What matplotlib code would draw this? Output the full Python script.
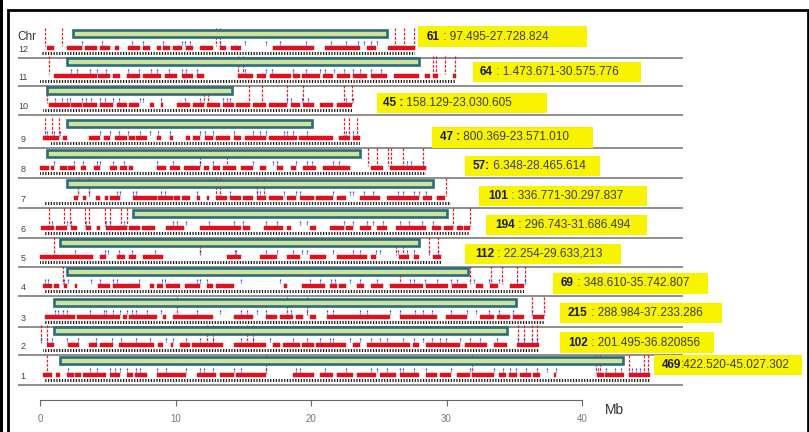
import matplotlib
matplotlib.use("Agg")
import matplotlib.pyplot as plt
from matplotlib.patches import Rectangle

plt.rcParams['font.family'] = ['Liberation Sans', 'DejaVu Sans']
plt.rcParams['hatch.linewidth'] = 0.9

# ---- data (Mb), index 0 = chromosome 1 ... index 11 = chromosome 12 ----
chroms = ['1', '2', '3', '4', '5', '6', '7', '8', '9', '10', '11', '12']
chrom_start = [0.4, 0.2, 0.3, 0.3, 0.0, 0.3, 0.3, 0.0, 0.8, 0.2, 0.0, 0.1]
chrom_end = [45.0, 36.8, 37.2, 35.7, 29.6, 31.7, 30.3, 28.5, 23.6, 23.0, 30.6, 27.7]
box_start = [1.5, 1.0, 1.0, 2.0, 1.5, 6.9, 2.0, 0.5, 2.0, 0.5, 2.0, 2.4]
box_end = [43.0, 34.5, 35.1, 31.6, 28.0, 30.0, 29.0, 23.6, 20.1, 14.2, 28.0, 25.6]

marker_counts = ['469', '102', '215', '69', '112', '194', '101', '57:', '47 :', '45 :', '64', '61']
marker_ranges = [':422.520-45.027.302', ' : 201.495-36.820856', ' : 288.984-37.233.286',
                 ' : 348.610-35.742.807', ' : 22.254-29.633,213', ' : 296.743-31.686.494',
                 ' : 336.771-30.297.837', ' 6.348-28.465.614', ' 800.369-23.571.010',
                 ' 158.129-23.030.605', ' : 1.473.671-30.575.776', ' : 97.495-27.728.824']

red_runs = [
    [(0.2, 0.9), (1.2, 1.5), (2.0, 2.5), (2.6, 3.0), (3.2, 4.9), (5.2, 5.9), (6.4, 6.9), (7.0, 7.9),
     (8.6, 10.8), (11.6, 13.0), (13.3, 14.3), (14.5, 16.7), (18.7, 20.2), (20.7, 21.6), (21.9, 23.1),
     (23.4, 24.8), (25.1, 26.3), (26.6, 28.0), (28.5, 29.3), (29.5, 30.3), (30.8, 31.7), (31.9, 33.5),
     (33.9, 34.4), (34.6, 35.2), (35.4, 36.2), (36.4, 36.9), (37.9, 38.1), (41.1, 41.6), (41.7, 43.1),
     (43.5, 45.0)],
    [(0.5, 1.0), (2.1, 2.9), (3.6, 4.2), (4.4, 5.4), (5.8, 8.4), (8.7, 9.1), (9.7, 9.8), (10.3, 11.1),
     (11.2, 13.5), (14.3, 16.7), (17.2, 17.7), (17.9, 19.2), (19.3, 20.2), (20.4, 22.6), (23.1, 23.6),
     (24.1, 27.3), (27.5, 28.0), (28.5, 31.0), (31.4, 33.0), (33.5, 34.5), (35.2, 36.8)],
    [(0.4, 2.6), (2.7, 5.9), (6.1, 6.4), (6.6, 8.6), (9.1, 9.3), (9.8, 12.8), (14.3, 15.7), (16.7, 17.5),
     (17.7, 18.7), (18.9, 19.4), (19.9, 20.4), (21.2, 25.8), (26.6, 29.3), (30.0, 31.5), (32.5, 33.5),
     (33.7, 34.7), (34.9, 35.7), (36.4, 37.2)],
    [(0.2, 0.9), (1.0, 1.4), (1.8, 2.0), (2.6, 2.7), (4.3, 5.2), (5.4, 7.4), (8.1, 8.4), (8.6, 9.1),
     (9.3, 10.3), (10.7, 11.8), (12.3, 12.8), (13.0, 14.3), (18.0, 18.2), (19.3, 21.0), (21.4, 21.9),
     (22.1, 22.6), (23.4, 23.9), (24.4, 25.3), (25.8, 28.3), (28.5, 30.1), (30.4, 31.5), (32.2, 32.7),
     (33.2, 33.8), (34.7, 35.7)],
    [(0.0, 3.9), (4.4, 4.9), (5.7, 6.3), (6.6, 7.1), (7.6, 9.1), (13.8, 14.8), (16.2, 17.5), (18.2, 19.2),
     (19.9, 21.1), (21.9, 24.1), (24.4, 24.8), (26.5, 27.2), (27.6, 28.0), (29.0, 29.6)],
    [(0.1, 1.0), (1.2, 2.0), (2.3, 2.7), (3.4, 3.8), (4.2, 4.4), (4.9, 6.4), (6.6, 7.4), (7.5, 8.5),
     (9.3, 10.6), (11.8, 14.8), (15.0, 15.5), (16.5, 17.9), (18.2, 18.5), (19.9, 20.4), (21.4, 22.4),
     (22.6, 23.1), (23.6, 24.4), (24.9, 25.6), (26.3, 28.5), (28.9, 29.6), (29.8, 30.5), (30.8, 31.2),
     (31.3, 31.7)],
    [(2.5, 2.8), (3.2, 3.4), (4.1, 4.4), (4.8, 5.0), (5.2, 5.9), (6.9, 8.6), (8.7, 9.8), (9.9, 10.3),
     (10.5, 11.1), (11.6, 11.8), (12.3, 12.5), (13.0, 13.8), (14.0, 14.8), (15.0, 15.7), (16.0, 16.7),
     (16.9, 17.9), (18.2, 18.9), (19.2, 20.2), (20.4, 21.6), (21.9, 22.6), (23.6, 25.1), (25.6, 28.0),
     (28.3, 28.9), (29.3, 29.9)],
    [(0.0, 0.7), (0.8, 1.0), (1.5, 2.0), (2.1, 2.6), (3.0, 3.4), (4.0, 4.4), (5.2, 5.7), (5.9, 6.4),
     (6.6, 6.9), (8.6, 9.3), (9.6, 10.3), (10.6, 11.8), (12.1, 12.5), (12.8, 13.3), (13.5, 14.5),
     (14.8, 15.7), (16.2, 16.7), (17.5, 17.9), (18.5, 18.9), (19.4, 20.4), (20.9, 22.9), (24.4, 25.3),
     (25.8, 28.5)],
    [(0.2, 1.4), (1.7, 2.0), (3.6, 4.4), (4.7, 5.2), (5.5, 6.4), (6.6, 7.0), (7.1, 7.9), (8.6, 8.9),
     (9.6, 9.8), (10.8, 11.1), (11.3, 11.8), (12.2, 12.8), (13.0, 14.0), (14.3, 14.8), (15.1, 16.7),
     (16.9, 19.0), (19.1, 21.6), (22.1, 22.9), (23.1, 23.6)],
    [(0.7, 2.2), (2.3, 3.1), (3.2, 4.2), (4.4, 5.4), (5.7, 6.4), (6.6, 7.3), (8.1, 8.4), (8.9, 9.1),
     (10.1, 11.1), (11.3, 12.1), (12.3, 13.3), (13.5, 14.3), (14.5, 15.5), (15.7, 16.7), (16.9, 18.2),
     (18.5, 19.2), (19.4, 20.2), (20.7, 21.6), (21.9, 23.0)],
    [(1.0, 4.2), (4.3, 5.2), (5.4, 5.9), (6.4, 7.4), (7.6, 8.9), (9.2, 10.1), (10.5, 11.3), (11.6, 12.1),
     (14.6, 15.7), (16.0, 16.7), (17.0, 18.5), (18.7, 19.2), (19.3, 20.7), (20.9, 21.6), (21.9, 22.9),
     (23.1, 24.1), (24.4, 25.6), (26.1, 28.0), (28.4, 28.8), (29.0, 29.4), (30.5, 30.7)],
    [(0.5, 1.0), (2.0, 3.1), (3.3, 4.2), (4.4, 5.2), (5.5, 5.8), (6.5, 7.4), (7.6, 8.1), (8.6, 8.9),
     (9.1, 9.6), (9.8, 10.5), (10.8, 11.3), (11.8, 12.8), (13.3, 13.7), (14.1, 14.8), (17.2, 20.2),
     (21.0, 23.6), (24.1, 24.8), (25.7, 27.7)],
]

blue_ticks = [
    [2.1, 3.7, 4.2, 5.2, 5.5, 5.9, 6.4, 7.1, 7.4, 8.6, 9.3, 10.8, 11.8, 12.1, 12.8, 14.3, 14.8, 16.7,
     18.9, 19.2, 21.0, 22.6, 24.4, 24.9, 25.6, 26.6, 26.8, 27.6, 28.5, 30.3, 31.7, 33.5, 34.2, 34.7,
     35.1, 35.9, 36.7, 37.4, 38.1, 41.2, 41.8, 42.4, 42.9, 43.7, 44.0, 44.3, 44.9],
    [0.1, 0.5, 0.9, 2.0, 2.8, 4.1, 5.3, 6.0, 7.1, 8.1, 9.3, 9.8, 10.8, 11.8, 12.8, 14.8, 15.7, 17.0,
     18.7, 19.7, 20.7, 21.4, 21.6, 22.9, 23.6, 24.4, 25.1, 25.6, 26.8, 27.6, 28.3, 28.9, 29.5, 30.0,
     31.0, 31.7, 32.5, 33.7, 35.3, 35.7, 36.3, 36.7],
    [1.1, 1.3, 1.7, 2.0, 3.7, 4.7, 4.9, 5.4, 5.9, 6.4, 6.8, 7.1, 7.9, 8.9, 11.6, 13.3, 14.8, 15.3,
     16.0, 16.7, 18.5, 19.7, 21.2, 21.6, 23.6, 24.1, 25.8, 26.6, 27.7, 28.3, 28.9, 30.3, 31.5, 32.2,
     33.1, 33.9, 34.9, 36.3],
    [0.4, 0.6, 1.8, 2.1, 3.8, 4.4, 5.4, 5.7, 7.3, 9.0, 9.2, 11.6, 11.8, 12.3, 14.8, 17.7, 19.9, 20.7,
     21.5, 21.8, 22.9, 23.6, 24.9, 27.3, 27.6, 28.4, 29.3, 30.3, 30.8, 32.0, 33.1, 33.9, 35.2, 35.8],
    [2.6, 4.8, 5.0, 5.8, 6.8, 8.5, 11.8, 14.4, 14.5, 16.7, 17.5, 18.7, 19.3, 19.7, 21.6, 23.1, 23.6,
     24.8, 25.1, 26.4, 27.1, 27.6, 28.7, 29.4],
    [0.9, 2.0, 2.3, 3.4, 4.9, 5.2, 6.2, 9.8, 10.1, 10.8, 12.5, 14.3, 15.0, 16.7, 17.5, 19.2, 19.7,
     22.4, 23.1, 24.1, 24.6, 25.3, 26.6, 27.2, 28.2, 29.0],
    [3.6, 5.7, 5.9, 6.9, 7.1, 8.9, 9.2, 11.6, 14.0, 16.0, 16.2, 18.0, 18.9, 19.2, 21.6, 22.9, 23.1,
     23.9, 24.6, 26.4, 26.8, 27.6, 28.0, 28.5],
    [1.0, 2.5, 3.2, 4.2, 4.4, 5.4, 6.2, 8.6, 9.8, 11.8, 12.8, 15.7, 17.2, 17.5, 18.9, 19.7, 20.1,
     21.6, 22.1, 27.1, 27.4, 28.3],
    [0.5, 1.0, 1.5, 4.4, 5.2, 5.8, 6.5, 7.4, 8.1, 8.7, 9.6, 11.8, 12.2, 12.8, 14.3, 15.7, 16.2, 16.7,
     18.0, 18.2, 18.7, 19.7, 22.6, 23.1],
    [1.1, 1.6, 2.0, 2.2, 3.1, 3.4, 3.8, 4.4, 4.8, 5.4, 5.8, 7.4, 7.6, 8.9, 10.7, 11.8, 13.5, 13.8,
     14.0, 18.2, 18.5, 19.3, 19.8, 22.6, 23.1],
    [2.3, 2.7, 3.7, 4.2, 4.9, 6.5, 7.3, 8.2, 8.6, 9.5, 10.5, 10.8, 11.6, 15.1, 16.7, 17.1, 18.7,
     19.6, 20.7, 21.0, 21.7, 22.4, 23.1, 23.6, 24.4, 25.2],
    [3.1, 4.55, 6.8, 7.6, 9.1, 10.5, 10.7, 11.1, 13.3, 15.1, 16.7, 17.7, 19.6, 21.5, 22.6, 23.5,
     23.9, 24.4, 24.9],
]

tall_red = [
    [0.5, 16.7, 31.9, 41.0, 41.3, 43.5, 44.6, 44.9],
    [0.1, 0.5, 12.3, 12.8, 15.3, 15.7, 35.3, 35.7, 36.3, 36.7],
    [10.1, 18.2, 19.7, 36.3, 37.2],
    [1.7, 26.6, 31.7, 33.3, 34.1, 35.2, 35.8],
    [1.0, 11.8, 26.3, 26.8, 28.7, 29.4],
    [0.7, 1.8, 2.2, 3.3, 3.6, 4.8, 5.2, 6.0, 6.4, 30.5, 31.7],
    [2.8, 3.6, 13.0, 13.3, 16.0, 16.5, 30.0],
    [11.8, 13.8, 24.2, 24.9, 25.7, 25.9, 26.8, 28.3],
    [0.4, 0.9, 1.4, 22.4, 22.8, 23.4],
    [0.5, 12.1, 12.4, 15.4, 16.4, 18.2, 19.4, 22.4, 23.0],
    [0.7, 14.6, 15.0, 29.0, 29.2, 29.9, 30.6],
    [0.4, 1.6, 13.0, 13.3, 26.2, 26.9, 27.6],
]

# ---- layout (pixels of the 809x432 picture) ----
W, H = 809, 432
PX0, PX_PER_MB = 40, 13.55
base_y = [385, 355, 327, 296, 267, 238, 208, 178, 148, 115, 86, 58]
label_box = [(654, 355, 802, 375), (560, 332, 714, 353), (560, 303, 722, 323), (553, 273, 708, 294),
             (465, 244, 621, 264), (486, 215, 647, 235), (479, 186, 647, 206), (465, 156, 600, 176),
             (432, 127, 593, 148), (377, 93, 547, 113), (473, 62, 641, 82), (418, 26, 587, 47)]
label_pad = [8, 8, 8, 8, 10, 9, 9, 8, 8, 6, 7, 9]

fig = plt.figure(figsize=(W / 100, H / 100), dpi=100)
fig.patch.set_facecolor('white')

# data axes: x in Mb, y in picture pixels (downwards)
ax = fig.add_axes([0, 0, 1, 1])
ax.set_xlim(-PX0 / PX_PER_MB, (W - PX0) / PX_PER_MB)
ax.set_ylim(H, 0)
ax.axis('off')

for i, c in enumerate(chroms):
    yb = base_y[i]
    # baseline
    ax.plot([(18 - PX0) / PX_PER_MB, (683 - PX0) / PX_PER_MB], [yb, yb], color='#8e8e8e', lw=1.4,
            solid_capstyle='butt', zorder=1)
    ax.text((23 - PX0) / PX_PER_MB, yb - 4, c, fontsize=6.5, color='#444444', ha='center', va='bottom')
    # tall red markers
    ax.vlines(tall_red[i], yb - 30, yb - 12, colors='#e0202a', lw=0.9, linestyles=(0, (2.2, 1.2)), zorder=2)
    # black markers
    ax.broken_barh([(chrom_start[i], chrom_end[i] - chrom_start[i])], (yb - 6.5, 3.2),
                   facecolors='none', edgecolors='#1e1e1e', hatch='||||||', linewidth=0, zorder=2)
    # red markers
    ax.broken_barh([(a, b - a) for a, b in red_runs[i]], (yb - 12.5, 4.6),
                   facecolors='#e3101c', edgecolors='#e3101c', linewidth=0.3, zorder=3)
    # blue markers
    ax.vlines(blue_ticks[i], yb - 17.5, yb - 13.3, colors='#3344dd', lw=0.9, linestyles=(0, (1.6, 0.8)),
              zorder=3)
    # region box
    ax.add_patch(Rectangle((box_start[i], yb - 28.5), box_end[i] - box_start[i], 7.5,
                           facecolor='#cfe39c', edgecolor='#2d6d79', lw=1.9, zorder=4))

# overlay axes in pixels for labels
axp = fig.add_axes([0, 0, 1, 1])
axp.set_xlim(0, W)
axp.set_ylim(H, 0)
axp.axis('off')

axp.text(27, 37, 'Chr', fontsize=8.5, color='#333333', ha='center', va='center')
for i in range(len(chroms)):
    x0, y0, x1, y1 = label_box[i]
    axp.add_patch(Rectangle((x0, y0), x1 - x0, y1 - y0, facecolor='#f8f400', edgecolor='none', zorder=5))
    t = axp.text(x0 + label_pad[i], (y0 + y1) / 2, marker_counts[i], fontsize=8.5, fontweight='bold',
                 color='#1a1a4e', ha='left', va='center', zorder=6)
    axp.annotate(marker_ranges[i], xy=(1, 0.5), xycoords=t, fontsize=8.5, color='#3c3c3c',
                 ha='left', va='center', zorder=6)

axp.text(605, 410, 'Mb', fontsize=10, color='#333333', ha='left', va='center')

# frame
axp.add_patch(Rectangle((0, 0), 3.5, H, facecolor='black', edgecolor='none'))
axp.plot([8, 8, 808, 808], [H + 5, 10, 10, H + 5], color='black', lw=2.0, solid_joinstyle='miter')

# scale axis
sc = fig.add_axes([PX0 / W, (H - 400) / H, 40 * PX_PER_MB / W, 0.0001])
sc.set_xlim(0, 40)
sc.set_xticks([0, 10, 20, 30, 40])
sc.set_yticks([])
for s in ['top', 'left', 'right']:
    sc.spines[s].set_visible(False)
sc.spines['bottom'].set_color('#666666')
sc.tick_params(axis='x', length=4, color='#666666', labelsize=7, labelcolor='#777777', pad=6)
sc.patch.set_visible(False)

fig.savefig('out.png', dpi=100)
